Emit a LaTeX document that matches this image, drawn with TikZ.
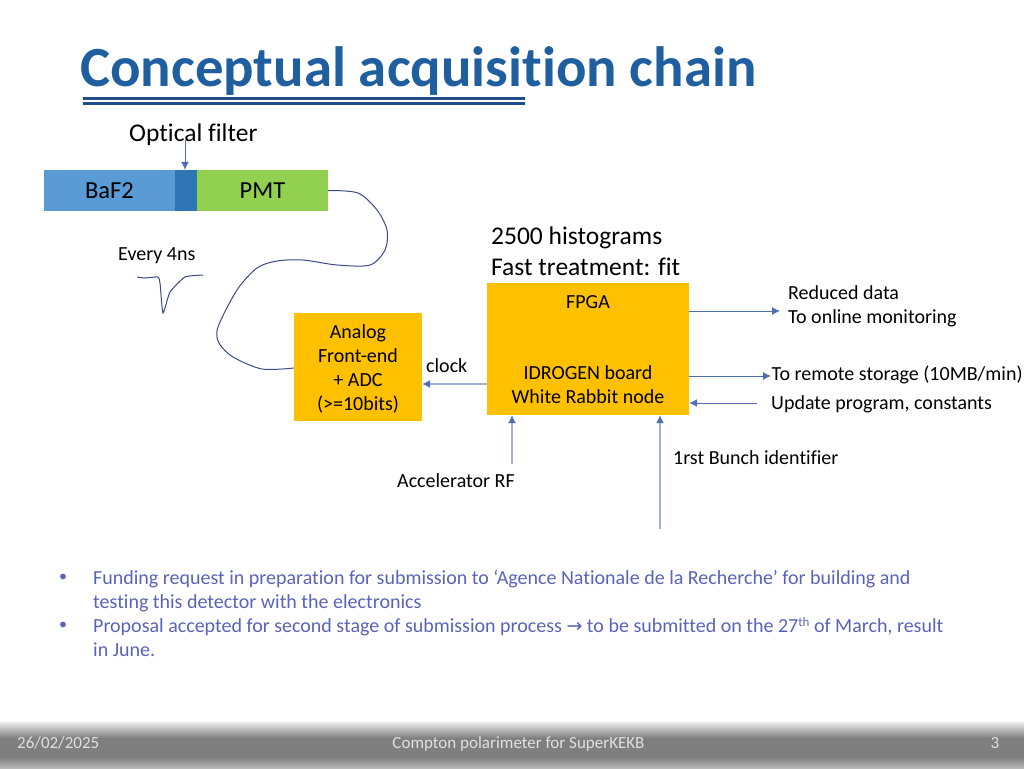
\documentclass[tikz,border=0pt]{standalone}
\usepackage{fontspec}
\setmainfont[Ligatures=NoCommon]{Carlito}
\newfontfamily\symfont{DejaVu Sans}
\usetikzlibrary{arrows.meta}
\definecolor{titleblue}{HTML}{1F5FA0}
\definecolor{rulenavy}{HTML}{1F4E8C}
\definecolor{bafblue}{HTML}{5B9BD5}
\definecolor{filterblue}{HTML}{2E75B6}
\definecolor{pmtgreen}{HTML}{92D050}
\definecolor{boxorange}{HTML}{FFC000}
\definecolor{wirenavy}{HTML}{3C4A85}
\definecolor{linkblue}{HTML}{4F6DB0}
\definecolor{linklight}{HTML}{A3B1D3}
\definecolor{bodyblue}{HTML}{5A63B8}
\definecolor{footgrey}{HTML}{7F7F7F}
\newcommand{\fsize}[1]{\fontsize{#1}{24}\selectfont}
\begin{document}
\begin{tikzpicture}[x=1pt,y=-1pt,
    crystal/.style = {minimum height=41pt,inner sep=0pt,font=\fsize{24.5}},
    block/.style = {fill=boxorange,inner sep=0pt,align=center},
    label/.style = {inner sep=0pt,text=black,align=left,anchor=base west,font=\fsize{20}},
    biglabel/.style = {inner sep=0pt,text=black,anchor=base west,font=\fsize{25.5}},
    link/.style = {linkblue,line width=1pt,-{Latex[length=8pt,width=8pt]}},
    softlink/.style = {linklight,line width=1.2pt,-{Latex[length=8pt,width=8pt,color=linkblue]}},
    wire/.style = {wirenavy,line width=1pt},
    bodytext/.style = {inner sep=0pt,text=bodyblue,align=left,anchor=north west,font=\fsize{20}},
    foottext/.style = {inner sep=0pt,text=white!88!black,font=\fsize{17}}]
    \useasboundingbox (0,0) rectangle (1024,768);
    % footer bands
    \shade[top color=white!92!black,bottom color=footgrey] (0,722) rectangle (1024,738);
    \fill[footgrey] (0,738) rectangle (1024,757);
    \shade[top color=footgrey,bottom color=white!72!black] (0,757) rectangle (1024,768);
    \node[foottext,anchor=base west] (date) at (17,748) {26/02/2025};
    \node[foottext,anchor=base] (talk) at (518.5,748) {Compton polarimeter for SuperKEKB};
    \node[foottext,anchor=base] (pagenum) at (995,748) {3};
    % title
    \node[inner sep=0pt,anchor=base west,text=titleblue,font=\fsize{56.8}\bfseries] (title) at (80,86) {Conceptual acquisition chain};
    \fill[rulenavy] (83,97) rectangle (525,100);
    \fill[rulenavy] (83,102) rectangle (525,105);
    % detector
    \node[crystal,fill=bafblue,minimum width=131pt] (baf) at (109.5,190.5) {BaF2};
    \node[crystal,fill=filterblue,minimum width=22pt] (filter) at (186,190.5) {};
    \node[crystal,fill=pmtgreen,minimum width=131pt] (pmt) at (262.5,190.5) {PMT};
    \node[biglabel] (optical) at (129,141) {Optical filter};
    \node[label] (every) at (118,260) {Every 4ns};
    % electronics
    \node[block,minimum width=128pt,minimum height=108pt] (adc) at (358,367) {};
    \node[inner sep=0pt,align=center,font=\fsize{20}] (adctext) at (358,369) {Analog\\Front-end\\+ ADC\\(>=10bits)};
    \node[block,minimum width=202pt,minimum height=132pt] (board) at (588,349) {};
    \node[inner sep=0pt,anchor=base,font=\fsize{20}] (fpga) at (588,308) {FPGA};
    \node[inner sep=0pt,align=center,font=\fsize{20}] (idrogen) at (588,385) {IDROGEN board\\White Rabbit node};
    \node[biglabel] (hist) at (491,244) {2500 histograms};
    \node[biglabel] (fast) at (491,275) {Fast treatment: fit};
    % labels
    \node[label] (clock) at (426,372) {clock};
    \node[label] (reduced) at (788,299.5) {Reduced data};
    \node[label] (monitor) at (788,323.5) {To online monitoring};
    \node[label] (storage) at (771.5,380) {To remote storage (10MB/min)};
    \node[label] (update) at (771,409) {Update program, constants};
    \node[label] (bunch) at (673,464) {1rst Bunch identifier};
    \node[label] (rf) at (397,487) {Accelerator RF};
    % free ends
    \coordinate (filtertop) at (185,140);
    \coordinate (clockrow) at (450,384);
    \coordinate (wirerow) at (300,368);
    \coordinate (reducedend) at (780,311);
    \coordinate (storageend) at (771,376);
    \coordinate (updateend) at (757,403);
    \coordinate (rfend) at (512,464);
    \coordinate (bunchend) at (660,529);
    % arrows
    \draw[link] (filtertop) -- (filtertop |- filter.north);
    \draw[softlink] (board.west |- clockrow) -- (adc.east |- clockrow);
    \draw[link] (board.east |- reducedend) -- (reducedend);
    \draw[link] (board.east |- storageend) -- (storageend);
    \draw[link] (updateend) -- (board.east |- updateend);
    \draw[softlink] (rfend) -- (rfend |- board.south);
    \draw[softlink] (bunchend) -- (bunchend |- board.south);
    % cable and pulse
    \draw[wire] plot[smooth,tension=0.5] coordinates {(pmt.east) (358,193) (377,210) (387,230) (385,250) (370,265) (337,265) (303,260) (277,261) (257,268) (237,290) (218,327) (219,343) (233,357) (262,369) (adc.west |- wirerow)};
    \draw[wire] plot[smooth,tension=0.3] coordinates {(137,277) (145,278) (158,277) (160,283) (163,313) (170,292) (185,277) (203,275)};
    % text block
    \node[inner sep=0pt,text=bodyblue,font=\fsize{16}] (b1) at (63,578) {•};
    \node[bodytext] (fund) at (93,570) {Funding request in preparation for submission to ‘Agence Nationale de la Recherche’ for building and\\testing this detector with the electronics};
    \node[inner sep=0pt,text=bodyblue,font=\fsize{16}] (b2) at (63,626) {•};
    \node[bodytext] (prop) at (93,617) {Proposal accepted for second stage of submission process {\symfont\fsize{19}→} to be submitted on the 27\raisebox{6pt}{\fsize{13}th} of March, result\\in June.};
\end{tikzpicture}
\end{document}
